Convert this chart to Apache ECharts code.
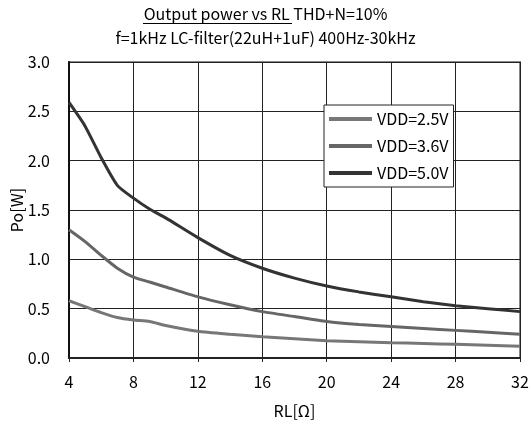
<!DOCTYPE html>
<html>
<head>
<meta charset="utf-8">
<script src="https://cdn.jsdelivr.net/npm/echarts@6/dist/echarts.min.js"></script>
<style>html,body{margin:0;padding:0;background:#fff}#c{width:531px;height:428px}</style>
</head>
<body>
<div id="c"></div>
<script>
const rl = [4, 5, 6, 7, 8, 9, 10, 12, 14, 16, 18, 20, 22, 24, 26, 28, 30, 32];
const vdd25 = [0.58, 0.52, 0.46, 0.41, 0.385, 0.37, 0.33, 0.27, 0.24, 0.215, 0.195, 0.175, 0.165, 0.155, 0.147, 0.139, 0.13, 0.12];
const vdd36 = [1.30, 1.18, 1.04, 0.91, 0.82, 0.77, 0.72, 0.62, 0.54, 0.47, 0.42, 0.37, 0.34, 0.32, 0.30, 0.28, 0.26, 0.24];
const vdd50 = [2.59, 2.35, 2.03, 1.75, 1.62, 1.51, 1.42, 1.22, 1.04, 0.91, 0.81, 0.73, 0.67, 0.62, 0.57, 0.53, 0.50, 0.47];
const seriesNames = ['VDD=2.5V', 'VDD=3.6V', 'VDD=5.0V'];
const seriesColors = ['#777777', '#666666', '#333333'];
const titleLine1 = 'Output power vs RL THD+N=10%';
const titleLine2 = 'f=1kHz LC-filter(22uH+1uF) 400Hz-30kHz';

const FONT = '"Noto Sans CJK JP", "Liberation Sans", sans-serif';
const pairs = arr => rl.map((x, i) => [x, arr[i]]);
const allData = [vdd25, vdd36, vdd50];

const chart = echarts.init(document.getElementById('c'), null, {renderer: 'canvas'});
chart.setOption({
  animation: false,
  backgroundColor: '#fff',
  textStyle: {fontFamily: FONT},
  title: {
    text: titleLine1 + '\n' + titleLine2,
    left: 'center',
    top: 2,
    padding: 0,
    textStyle: {fontFamily: FONT, fontSize: 16, fontWeight: 'normal', color: '#000', lineHeight: 24}
  },
  graphic: [{
    type: 'line',
    shape: {x1: 143, y1: 23.5, x2: 292, y2: 23.5},
    style: {stroke: '#000', lineWidth: 1}
  }],
  grid: {
    left: 69, right: 11, top: 62, bottom: 70,
    containLabel: false,
    outerBoundsMode: 'none',
    show: true, borderColor: '#888', borderWidth: 2, backgroundColor: 'transparent'
  },
  legend: {
    orient: 'vertical',
    left: 324, top: 105,
    padding: [6, 5, 6, 5],
    itemGap: 11,
    icon: 'rect',
    itemWidth: 43,
    itemHeight: 4,
    backgroundColor: '#fff',
    borderColor: '#222',
    borderWidth: 1,
    borderRadius: 0,
    textStyle: {fontFamily: FONT, fontSize: 16, color: '#000'},
    data: seriesNames
  },
  xAxis: {
    type: 'value', min: 4, max: 32, interval: 4,
    name: 'RL[Ω]', nameLocation: 'middle', nameGap: 45, nameMoveOverlap: false,
    nameTextStyle: {fontFamily: FONT, fontSize: 16, color: '#000'},
    axisLine: {show: true, lineStyle: {color: '#222', width: 2}},
    axisTick: {show: true, length: 4, lineStyle: {color: '#222'}},
    axisLabel: {fontFamily: FONT, fontSize: 16, color: '#000', margin: 16},
    splitLine: {show: true, lineStyle: {color: '#222', width: 1}}
  },
  yAxis: {
    type: 'value', min: 0, max: 3, interval: 0.5,
    name: 'Po[W]', nameLocation: 'middle', nameGap: 44, nameRotate: 90, nameMoveOverlap: false,
    nameTextStyle: {fontFamily: FONT, fontSize: 16, color: '#000'},
    axisLine: {show: true, lineStyle: {color: '#111', width: 2}},
    axisTick: {show: false},
    axisLabel: {fontFamily: FONT, fontSize: 16, color: '#000', margin: 19, formatter: v => v.toFixed(1)},
    splitLine: {show: true, lineStyle: {color: '#222', width: 1}}
  },
  series: seriesNames.map((n, i) => ({
    name: n,
    type: 'line',
    data: pairs(allData[i]),
    symbol: 'none',
    smooth: 0.2,
    color: seriesColors[i],
    lineStyle: {color: seriesColors[i], width: 3},
    z: 3 + i
  }))
});
</script>
</body>
</html>
